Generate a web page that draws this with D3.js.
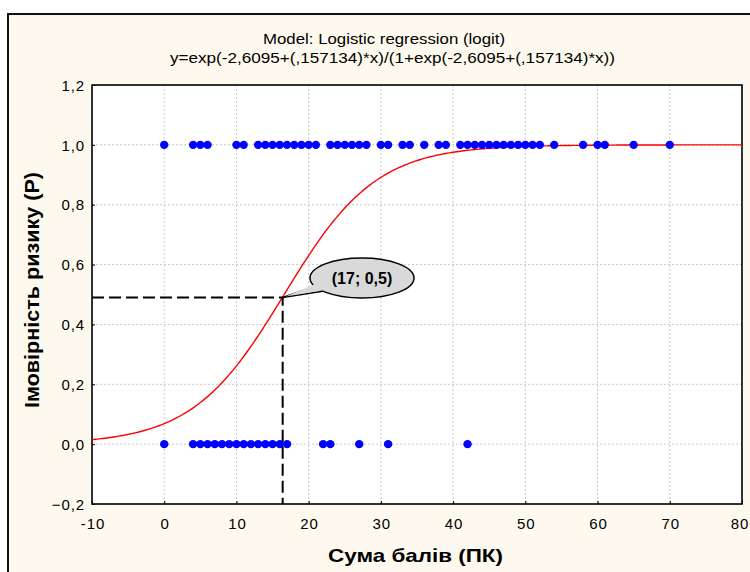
<!DOCTYPE html>
<html><head><meta charset="utf-8">
<script src="https://cdn.jsdelivr.net/npm/d3@7"></script>
<style>body{margin:0;background:#fff}svg{display:block}text{font-family:"Liberation Sans",Arial,sans-serif}</style>
</head><body><svg id="c" width="750" height="572"></svg>
<script>
const xTicks = [-10, 0, 10, 20, 30, 40, 50, 60, 70, 80];
const yTicks = [-0.2, 0, 0.2, 0.4, 0.6, 0.8, 1.0, 1.2];
const pointsAt1 = [0, 4, 5, 6, 10, 11, 13, 14, 15, 16, 17, 18, 19, 20, 21, 23, 24, 25, 26, 27, 28, 30, 31, 33, 34, 36, 38, 39, 41, 42, 43, 44, 45, 46, 47, 48, 49, 50, 51, 52, 54, 58, 60, 61, 65, 70];
const pointsAt0 = [0, 4, 5, 6, 7, 8, 9, 10, 11, 12, 13, 14, 15, 16, 17, 22, 23, 27, 31, 42];
const b0 = -2.6095, b1 = 0.157134;
const marker = {x: 16.4, y: 0.49, label: "(17; 0,5)"};
const titleLines = ["Model: Logistic regression (logit)", "y=exp(-2,6095+(,157134)*x)/(1+exp(-2,6095+(,157134)*x))"];
const xLabel = "Сума балів (ПК)";
const yLabel = "Імовірність ризику (Р)";

const svg = d3.select("#c");
const L = 92, R = 742, T = 85, B = 504;
const x = d3.scaleLinear().domain([-10, 80]).range([L, R]);
const y = d3.scaleLinear().domain([-0.2, 1.2]).range([B, T]);
const fmt = d => d3.format(".1f")(d).replace(".", ",");

svg.append("rect").attr("x", 8).attr("y", 14).attr("width", 800).attr("height", 600)
  .attr("fill", "#fef9ee").attr("stroke", "#111").attr("stroke-width", 2);
svg.append("rect").attr("x", L).attr("y", T).attr("width", R - L).attr("height", B - T).attr("fill", "#fff");

// grid
svg.append("g").selectAll("line").data(xTicks.slice(1, -1)).join("line")
  .attr("x1", d => x(d)).attr("x2", d => x(d)).attr("y1", T).attr("y2", B)
  .attr("stroke", "#c8c8c8").attr("stroke-dasharray", "2,2");
svg.append("g").selectAll("line").data(yTicks.slice(1, -1)).join("line")
  .attr("y1", d => y(d)).attr("y2", d => y(d)).attr("x1", L).attr("x2", R)
  .attr("stroke", "#c8c8c8").attr("stroke-dasharray", "2,2");

// axes (ticks pointing inward)
const xa = svg.append("g").attr("transform", `translate(0,${B})`)
  .call(d3.axisBottom(x).tickValues(xTicks).tickSize(-3).tickPadding(11).tickSizeOuter(0).tickFormat(d => d));
const ya = svg.append("g").attr("transform", `translate(${L},0)`)
  .call(d3.axisLeft(y).tickValues(yTicks).tickSize(-3).tickPadding(8).tickSizeOuter(0).tickFormat(fmt));
[xa, ya].forEach(g => {
  g.select(".domain").remove();
  g.selectAll("line").attr("stroke", "#000");
  g.selectAll("text").attr("font-size", 15).attr("fill", "#000").attr("letter-spacing", "0.9px")
    .attr("font-family", '"Liberation Sans",Arial,sans-serif');
});
xa.selectAll("text").attr("dy", "0.95em").attr("dx", d => d === 80 ? "-2.5px" : "0.45px");
ya.selectAll("text").attr("dy", "0.35em").attr("dx", "1px");
svg.append("rect").attr("x", L).attr("y", T).attr("width", R - L).attr("height", B - T)
  .attr("fill", "none").attr("stroke", "#000").attr("stroke-width", 1.6);

// curve
const xs = d3.range(-10, 80.01, 0.25);
const logit = v => Math.exp(b0 + b1 * v) / (1 + Math.exp(b0 + b1 * v));
svg.append("path").datum(xs).attr("fill", "none").attr("stroke", "#f00").attr("stroke-width", 1.4)
  .attr("d", d3.line().x(d => x(d)).y(d => y(logit(d))));

// points
svg.append("g").selectAll("circle").data(pointsAt1).join("circle")
  .attr("cx", d => x(d)).attr("cy", y(1)).attr("r", 4.2).attr("fill", "#0000ff");
svg.append("g").selectAll("circle").data(pointsAt0).join("circle")
  .attr("cx", d => x(d)).attr("cy", y(0)).attr("r", 4.2).attr("fill", "#0000ff");

// dashed guide
svg.append("path").attr("fill", "none").attr("stroke", "#000").attr("stroke-width", 2)
  .attr("stroke-dasharray", "12,5")
  .attr("d", `M${x(-10)},${y(marker.y)}H${x(marker.x)}V${B}`);

// callout
const px = x(marker.x), py = y(marker.y);
const cx = 362, cy = 278;
svg.append("path").attr("fill", "#d9d9d9").attr("stroke", "#000").attr("stroke-width", 1.5)
  .attr("d", `M${cx - 46},${cy + 8} L${px},${py} L${cx - 38},${cy + 13}`);
svg.append("ellipse").attr("cx", cx).attr("cy", cy).attr("rx", 52).attr("ry", 20)
  .attr("fill", "#d9d9d9").attr("stroke", "#000").attr("stroke-width", 1.5);
svg.append("path").attr("fill", "#d9d9d9").attr("stroke", "none")
  .attr("d", `M${cx - 47},${cy + 6} L${px + 3},${py - 1} L${cx - 37},${cy + 12} Z`);
svg.append("text").attr("x", cx).attr("y", cy + 6).attr("text-anchor", "middle")
  .attr("font-size", 16).attr("font-weight", "bold").text(marker.label);

// titles
svg.append("text").attr("x", 384).attr("y", 44).attr("text-anchor", "middle").attr("font-size", 15)
  .attr("textLength", 242).attr("lengthAdjust", "spacingAndGlyphs").text(titleLines[0]);
svg.append("text").attr("x", 392.5).attr("y", 63).attr("text-anchor", "middle").attr("font-size", 15)
  .attr("textLength", 445).attr("lengthAdjust", "spacingAndGlyphs").text(titleLines[1]);
svg.append("text").attr("x", 415.5).attr("y", 562).attr("text-anchor", "middle").attr("font-size", 19).attr("font-weight", "bold")
  .attr("textLength", 175).attr("lengthAdjust", "spacingAndGlyphs").text(xLabel);
svg.append("text").attr("transform", "translate(39,290) rotate(-90)").attr("text-anchor", "middle")
  .attr("font-size", 21).attr("font-weight", "bold")
  .attr("textLength", 236).attr("lengthAdjust", "spacingAndGlyphs").text(yLabel);
</script></body></html>
